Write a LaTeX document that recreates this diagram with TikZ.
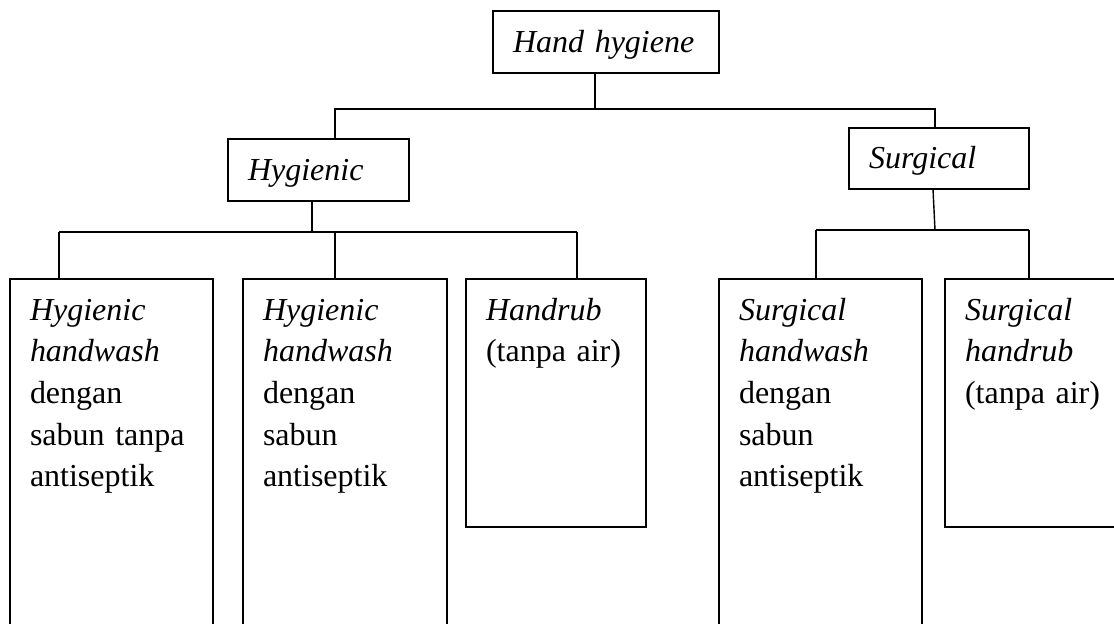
\documentclass[tikz,border=0pt]{standalone}
\usepackage{fontspec}
\setmainfont{Liberation Serif}
\usetikzlibrary{positioning}

\begin{document}
\begin{tikzpicture}[x=0.5pt,y=-0.5pt,line width=0.7pt,
   every node/.style={font=\fontsize{16pt}{20.85pt}\selectfont},
   head/.style={draw,anchor=north west,outer sep=0pt,inner xsep=10pt,inner ysep=0pt,
      align=left,minimum height=31pt,text height=11pt,text depth=1pt},
   leaf/.style={draw,anchor=north west,outer sep=0pt,inner xsep=10pt,inner ysep=0pt,
      align=left,text height=20.5pt,text depth=200pt}]
   \useasboundingbox (0,0) rectangle (1114,623);
   \clip (0,0) rectangle (1114,623);
   % upper levels
   \node[head,text width=93pt] (hand) at (493,11) {\textit{Hand hygiene}};
   \node[head,text width=70.5pt] (hyg) at (228,139) {\textit{Hygienic}};
   \node[head,text width=70pt,minimum height=30.5pt] (surg) at (849,128) {\textit{Surgical}};
   % lower level
   \node[leaf,text width=81.5pt] (hyg_1) at (10,279)
      {\textit{Hygienic}\\ \textit{handwash}\\ dengan\\ sabun tanpa\\ antiseptik};
   \node[leaf,text width=82pt] (hyg_2) at (243,279)
      {\textit{Hygienic}\\ \textit{handwash}\\ dengan\\ sabun\\ antiseptik};
   \node[leaf,text width=70pt,text depth=103.5pt] (hyg_3) at (466,279)
      {\textit{Handrub}\\ (tanpa air)};
   \node[leaf,text width=81.5pt] (surg_1) at (719,279)
      {\textit{Surgical}\\ \textit{handwash}\\ dengan\\ sabun\\ antiseptik};
   \node[leaf,text width=100pt,text depth=103.5pt] (surg_2) at (945,279)
      {\textit{Surgical}\\ \textit{handrub}\\ (tanpa air)};
   % joints
   \coordinate (j_0) at (595,109);
   \coordinate (j_1) at (312,232);
   \coordinate (j_2) at (935,230);
   \draw (j_0 |- hand.south) -- (j_0);
   \draw (hyg.north -| 335,0) -- (335,109) -- (935,109) -- (surg.north -| 935,0);
   \draw (hyg.south -| j_1) -- (j_1);
   \draw (59,232) -- (577,232);
   \foreach \x/\n in {59/hyg_1,335/hyg_2,577/hyg_3}
      \draw (\x,232) -- (\n.north -| \x,0);
   \draw (surg.south -| 933,0) -- (j_2);
   \draw (816,230) -- (1029,230);
   \foreach \x/\n in {816/surg_1,1029/surg_2}
      \draw (\x,230) -- (\n.north -| \x,0);
\end{tikzpicture}
\end{document}
